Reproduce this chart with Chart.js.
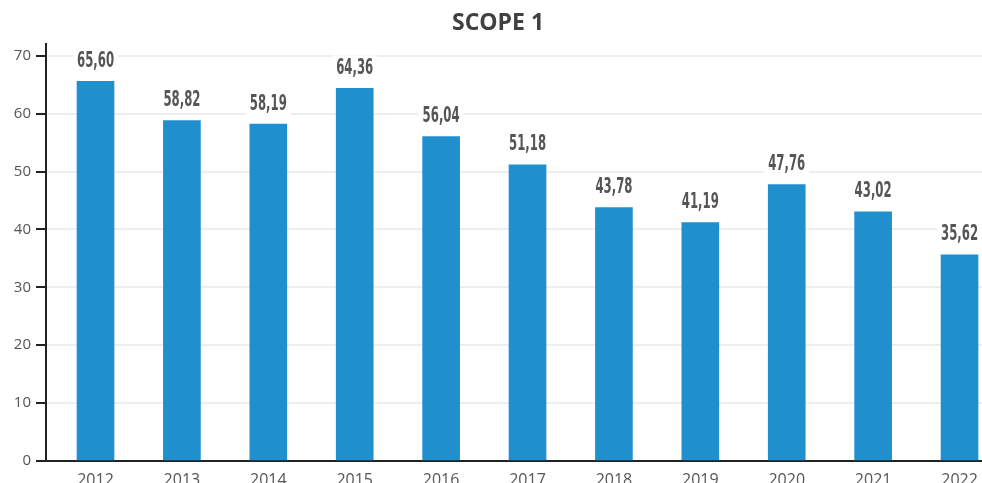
<!DOCTYPE html>
<html>
<head>
<meta charset="utf-8">
<script src="https://cdn.jsdelivr.net/npm/chart.js@4"></script>
<style>
  body { margin: 0; background: #fff; }
  #wrap { width: 982px; height: 483px; overflow: hidden; }
</style>
</head>
<body>
<div id="wrap"><canvas id="scopeChart" width="982" height="483"></canvas></div>
<script>
// data
const years = ['2012', '2013', '2014', '2015', '2016', '2017', '2018', '2019', '2020', '2021', '2022'];
const scope1 = [65.60, 58.82, 58.19, 64.36, 56.04, 51.18, 43.78, 41.19, 47.76, 43.02, 35.62];
const yTicks = [0, 10, 20, 30, 40, 50, 60, 70];

const fmt = v => v.toFixed(2).replace('.', ',');

// value labels with a white box behind them (hides the grid)
const valueLabels = {
    id: 'valueLabels',
    afterDatasetsDraw(chart) {
        const ctx = chart.ctx;
        const meta = chart.getDatasetMeta(0);
        ctx.save();
        ctx.font = 'bold 21px "DejaVu Sans Condensed", "DejaVu Sans", sans-serif';
        ctx.textAlign = 'center';
        ctx.textBaseline = 'middle';
        meta.data.forEach((bar, i) => {
            const txt = fmt(scope1[i]);
            const sx = 0.62;
            const w = ctx.measureText(txt).width * sx;
            const cx = bar.x, cy = bar.y - 21;
            ctx.fillStyle = '#ffffff';
            ctx.fillRect(cx - w / 2 - 4, cy - 12, w + 8, 24);
            ctx.save();
            ctx.translate(cx, cy + 1);
            ctx.scale(sx, 1);
            ctx.fillStyle = '#555555';
            ctx.fillText(txt, 0, 0);
            ctx.restore();
        });
        ctx.restore();
    }
};

const ctx = document.getElementById('scopeChart').getContext('2d');

new Chart(ctx, {
    type: 'bar',
    data: {
        datasets: [{
            data: years.map((y, i) => ({ x: Number(y), y: scope1[i] })),
            backgroundColor: '#208fce',
            barThickness: 37
        }]
    },
    options: {
        responsive: false,
        animation: false,
        layout: { padding: { left: 14, right: 0, top: 0, bottom: 0 } },
        plugins: {
            legend: { display: false },
            tooltip: { enabled: false },
            title: {
                display: true,
                text: 'SCOPE 1',
                color: '#404040',
                font: { family: '"Open Sans"', size: 23, weight: 'bold' },
                padding: { top: 10, bottom: 6 }
            }
        },
        scales: {
            x: {
                type: 'linear',
                offset: false,
                min: 2011.427,
                max: 2022.26,
                afterBuildTicks: s => { s.ticks = years.map(y => ({ value: Number(y) })); },
                afterFit: s => { s.height = 22; },
                grid: { display: false, offset: false },
                border: { display: true, color: '#222', width: 2 },
                ticks: {
                    padding: 2,
                    color: '#555',
                    font: { family: '"Open Sans"', size: 16 },
                    callback: v => String(v)
                }
            },
            y: {
                min: 0,
                max: 72.1,
                afterBuildTicks: s => { s.ticks = yTicks.map(v => ({ value: v })); },
                afterFit: s => { s.width = 32; },
                grid: {
                    color: '#eeeeee',
                    lineWidth: 2,
                    tickColor: '#222',
                    tickWidth: 2,
                    tickLength: 10
                },
                border: { display: true, color: '#222', width: 2 },
                ticks: {
                    padding: 5,
                    color: '#555',
                    font: { family: '"Open Sans"', size: 15 }
                }
            }
        }
    },
    plugins: [valueLabels]
});
</script>
</body>
</html>
